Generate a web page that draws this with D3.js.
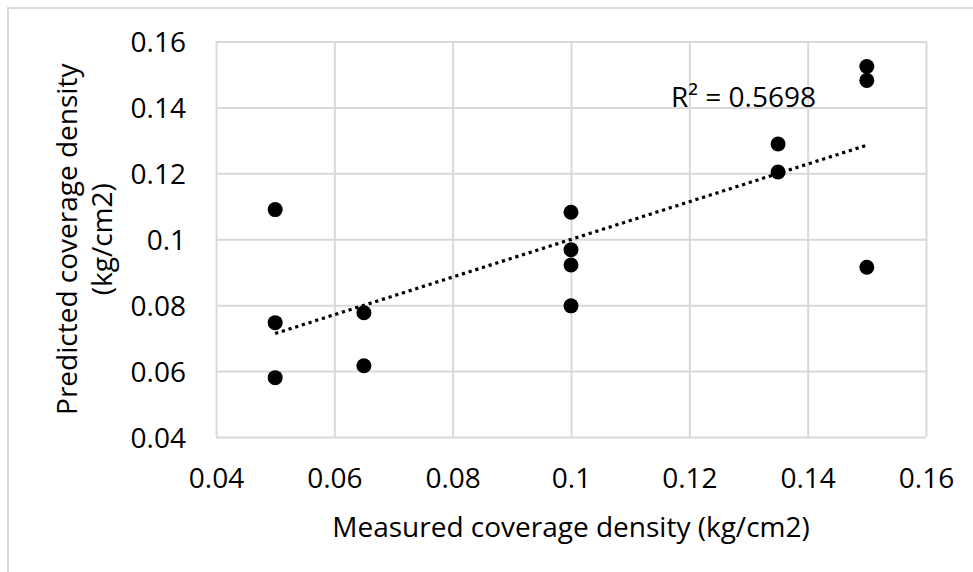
<!DOCTYPE html>
<html>
<head>
<meta charset="utf-8">
<script src="https://cdn.jsdelivr.net/npm/d3@7"></script>
<style>
  body { margin: 0; background: #fff; }
  svg { display: block; }
  text { font-family: "Open Sans", "Noto Sans", sans-serif; fill: #000; }
</style>
</head>
<body>
<svg id="chart" width="973" height="572"></svg>
<script>
'use strict';

// measured vs predicted coverage density (kg/cm2)
var measured  = [0.05, 0.05, 0.05, 0.065, 0.065, 0.1, 0.1, 0.1, 0.1, 0.135, 0.135, 0.15, 0.15, 0.15];
var predicted = [0.109, 0.0747, 0.058, 0.0777, 0.0616, 0.1082, 0.0968, 0.0922, 0.0798, 0.1289, 0.1204, 0.1524, 0.1482, 0.0915];
var xTicks = [0.04, 0.06, 0.08, 0.1, 0.12, 0.14, 0.16];
var yTicks = [0.04, 0.06, 0.08, 0.1, 0.12, 0.14, 0.16];
var r2Label = 'R\u00B2 = 0.5698';

var svg = d3.select('#chart');
var margin = {left: 216, right: 973 - 926, top: 41.5, bottom: 572 - 437};
var width = 973 - margin.left - margin.right;
var height = 572 - margin.top - margin.bottom;
var fontSize = '28px';

// outer chart frame (cut off at right and bottom)
svg.append('path')
    .attr('d', 'M8,572V8H973')
    .attr('fill', 'none')
    .attr('stroke', '#d9d9d9')
    .attr('stroke-width', 2);

var g = svg.append('g').attr('transform', 'translate(' + margin.left + ',' + margin.top + ')');

var x = d3.scaleLinear().domain([0.04, 0.16]).range([0, width]);
var y = d3.scaleLinear().domain([0.04, 0.16]).range([height, 0]);

var fmt = function(d) { return d3.format('')(+d.toFixed(2)); };

// grid + axes
var xAxis = g.append('g')
    .attr('transform', 'translate(0,' + height + ')')
    .call(d3.axisBottom(x).tickValues(xTicks).tickSize(-height).tickPadding(51).tickFormat(fmt));
var yAxis = g.append('g')
    .call(d3.axisLeft(y).tickValues(yTicks).tickSize(-width).tickPadding(30).tickFormat(fmt));

[xAxis, yAxis].forEach(function(a) {
    a.select('.domain').remove();
    a.selectAll('line').attr('stroke', '#d9d9d9').attr('stroke-width', 2);
    a.selectAll('text').style('font-size', fontSize).attr('fill', '#000');
});
xAxis.selectAll('text').attr('dy', 0);
yAxis.selectAll('text').attr('dy', '0.36em');

// trendline from least squares fit
var mx = d3.mean(measured), my = d3.mean(predicted);
var sxy = d3.sum(measured, function(v, i) { return (v - mx) * (predicted[i] - my); });
var sxx = d3.sum(measured, function(v) { return (v - mx) * (v - mx); });
var slope = sxy / sxx, icpt = my - slope * mx;
var xExt = d3.extent(measured);

g.append('line')
    .attr('x1', x(xExt[0])).attr('y1', y(icpt + slope * xExt[0]))
    .attr('x2', x(xExt[1])).attr('y2', y(icpt + slope * xExt[1]))
    .attr('stroke', '#000')
    .attr('stroke-width', 3.2)
    .attr('stroke-dasharray', '3.2 3.8');

// points
g.selectAll('circle.pt')
    .data(measured)
    .enter().append('circle')
    .attr('class', 'pt')
    .attr('cx', function(d) { return x(d); })
    .attr('cy', function(d, i) { return y(predicted[i]); })
    .attr('r', 7.5)
    .attr('fill', '#000');

// R² label
svg.append('text')
    .attr('x', 671)
    .attr('y', 107)
    .style('font-size', fontSize)
    .text(r2Label);

// axis titles
svg.append('text')
    .attr('x', margin.left + width / 2)
    .attr('y', 537)
    .attr('text-anchor', 'middle')
    .style('font-size', fontSize)
    .text('Measured coverage density (kg/cm2)');

var yt = svg.append('text')
    .attr('transform', 'translate(77,' + (margin.top + height / 2) + ') rotate(-90)')
    .attr('text-anchor', 'middle')
    .style('font-size', fontSize);
yt.append('tspan').attr('x', 0).attr('dy', 0).text('Predicted coverage density');
yt.append('tspan').attr('x', 0).attr('dy', 35).text('(kg/cm2)');
</script>
</body>
</html>
